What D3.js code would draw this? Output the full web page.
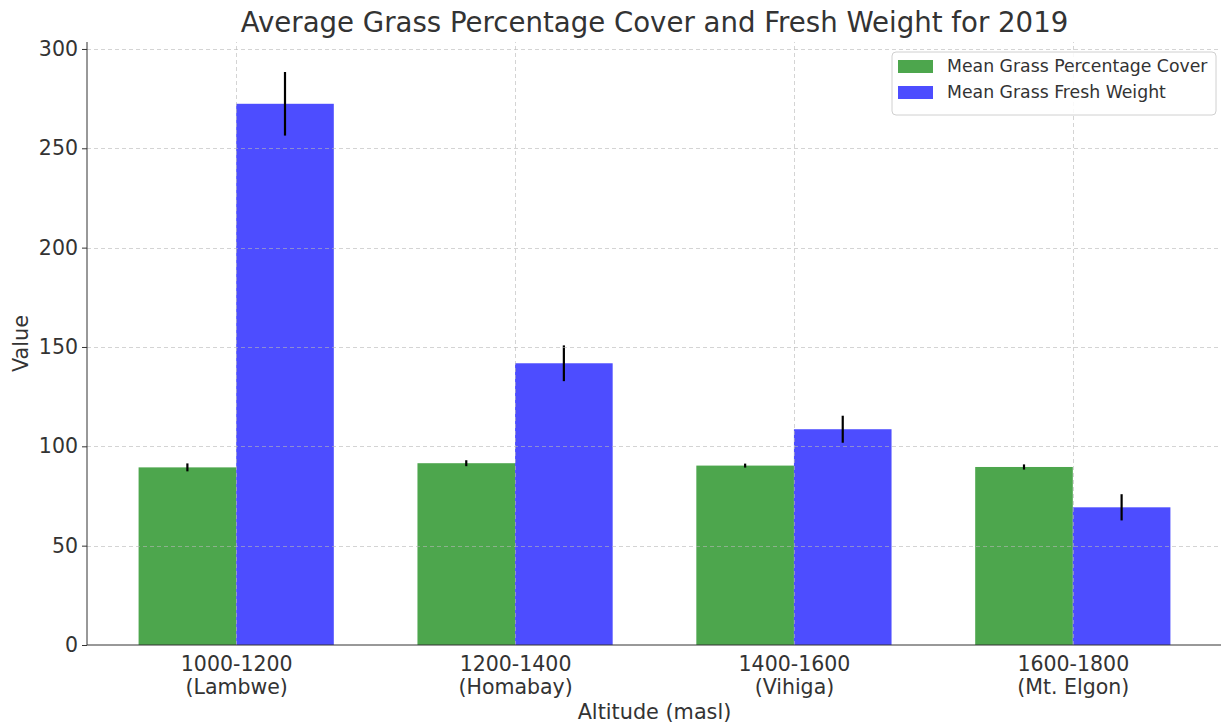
<!DOCTYPE html>
<html>
  <head>
    <meta charset="utf-8">
    <title>Grass Cover and Fresh Weight 2019</title>
    <script src="https://cdn.jsdelivr.net/npm/d3@7"></script>
    <style>
      body { margin: 0; background: #fff; }
      svg { display: block; font-family: "DejaVu Sans", sans-serif; }
      .grid line { stroke: #b8b8b8; stroke-opacity: 0.6; stroke-dasharray: 4,3; shape-rendering: crispEdges; }
      .grid path { stroke-width: 0; }
      .axis path, .axis line { stroke: #333; }
      .axis text { fill: #333; font-size: 20.5px; font-family: "DejaVu Sans", sans-serif; }
    </style>
  </head>
  <body>
    <script>
    // data
    const altitudes = ["1000-1200", "1200-1400", "1400-1600", "1600-1800"];
    const sites = ["(Lambwe)", "(Homabay)", "(Vihiga)", "(Mt. Elgon)"];
    const coverMean = [89.4, 91.5, 90.3, 89.6];
    const coverErr = [2.0, 1.5, 1.0, 1.3];
    const weightMean = [272.4, 141.8, 108.6, 69.3];
    const weightErr = [16.0, 9.0, 6.8, 6.6];
    const yTicks = [0, 50, 100, 150, 200, 250, 300];
    const seriesNames = ["Mean Grass Percentage Cover", "Mean Grass Fresh Weight"];
    const seriesColors = ["#4da64d", "#4d4dff"];

    const W = 1221, H = 725;
    const margin = {top: 42, right: -1, bottom: 80, left: 87};
    const width = W - margin.left - margin.right,
          height = H - margin.top - margin.bottom;
    const barW = 0.35;

    const svg = d3.select("body").append("svg")
      .attr("width", W)
      .attr("height", H);

    const g = svg.append("g")
      .attr("transform", "translate(" + margin.left + "," + margin.top + ")");

    const idx = altitudes.map((d, i) => i);
    const x = d3.scaleLinear().domain([-0.535, altitudes.length - 1 + 0.535]).range([0, width]);
    const y = d3.scaleLinear().domain([0, 303.5]).range([height, 0]);

    const series = [
      {name: seriesNames[0], color: seriesColors[0], mean: coverMean, err: coverErr, off: -barW / 2},
      {name: seriesNames[1], color: seriesColors[1], mean: weightMean, err: weightErr, off: barW / 2}
    ];

    // bars
    series.forEach(s => {
      g.selectAll(null)
        .data(idx).enter()
        .append("rect")
        .attr("x", i => x(i + s.off - barW / 2))
        .attr("y", i => y(s.mean[i]))
        .attr("width", x(barW) - x(0))
        .attr("height", i => height - y(s.mean[i]))
        .attr("fill", s.color);

      g.selectAll(null)
        .data(idx).enter()
        .append("line")
        .attr("x1", i => x(i + s.off))
        .attr("x2", i => x(i + s.off))
        .attr("y1", i => y(s.mean[i] - s.err[i]))
        .attr("y2", i => y(s.mean[i] + s.err[i]))
        .attr("stroke", "#000")
        .attr("stroke-width", 2.2);
    });

    // gridlines on top, like the original
    g.append("g")
      .attr("class", "grid")
      .call(d3.axisLeft(y).tickValues(yTicks.slice(1)).tickSize(-width).tickFormat(""));

    g.append("g")
      .attr("class", "grid")
      .attr("transform", "translate(0," + height + ")")
      .call(d3.axisBottom(x).tickValues(idx).tickSize(height).tickFormat(""))
      .selectAll("line").attr("y2", -height);

    // axes
    const yAxis = g.append("g")
      .attr("class", "axis")
      .call(d3.axisLeft(y).tickValues(yTicks).tickSize(5).tickPadding(4));
    yAxis.select(".domain").attr("d", "M0," + y(303.5) + "V" + height);

    const xAxis = g.append("g")
      .attr("class", "axis")
      .attr("transform", "translate(0," + height + ")")
      .call(d3.axisBottom(x).tickValues(idx).tickSize(0).tickFormat(""));
    xAxis.select(".domain").attr("d", "M0,0H" + width);

    xAxis.selectAll(".tick").append("text")
      .attr("fill", "#333")
      .attr("text-anchor", "middle")
      .each(function(i) {
        const t = d3.select(this);
        t.append("tspan").attr("x", 0).attr("y", 26).text(altitudes[i]);
        t.append("tspan").attr("x", 0).attr("y", 49).text(sites[i]);
      });

    // title and axis labels
    svg.append("text")
      .attr("x", margin.left + width / 2)
      .attr("y", 32)
      .attr("text-anchor", "middle")
      .attr("fill", "#333")
      .style("font-size", "27.6px")
      .text("Average Grass Percentage Cover and Fresh Weight for 2019");

    svg.append("text")
      .attr("x", margin.left + width / 2)
      .attr("y", 719)
      .attr("text-anchor", "middle")
      .attr("fill", "#333")
      .style("font-size", "20.8px")
      .text("Altitude (masl)");

    svg.append("text")
      .attr("transform", "rotate(-90)")
      .attr("x", -(margin.top + height / 2))
      .attr("y", 28)
      .attr("text-anchor", "middle")
      .attr("fill", "#333")
      .style("font-size", "20.8px")
      .text("Value");

    // legend
    const lg = svg.append("g").attr("transform", "translate(892,52)");
    lg.append("rect")
      .attr("width", 324).attr("height", 63)
      .attr("rx", 4)
      .attr("fill", "#fff").attr("fill-opacity", 0.85)
      .attr("stroke", "#d0d0d0");
    series.forEach((s, k) => {
      lg.append("rect")
        .attr("x", 6).attr("y", 8 + k * 26)
        .attr("width", 35).attr("height", 13)
        .attr("fill", s.color);
      lg.append("text")
        .attr("x", 55).attr("y", 20 + k * 26)
        .attr("fill", "#333")
        .style("font-size", "17.3px")
        .text(s.name);
    });
    </script>
  </body>
</html>
